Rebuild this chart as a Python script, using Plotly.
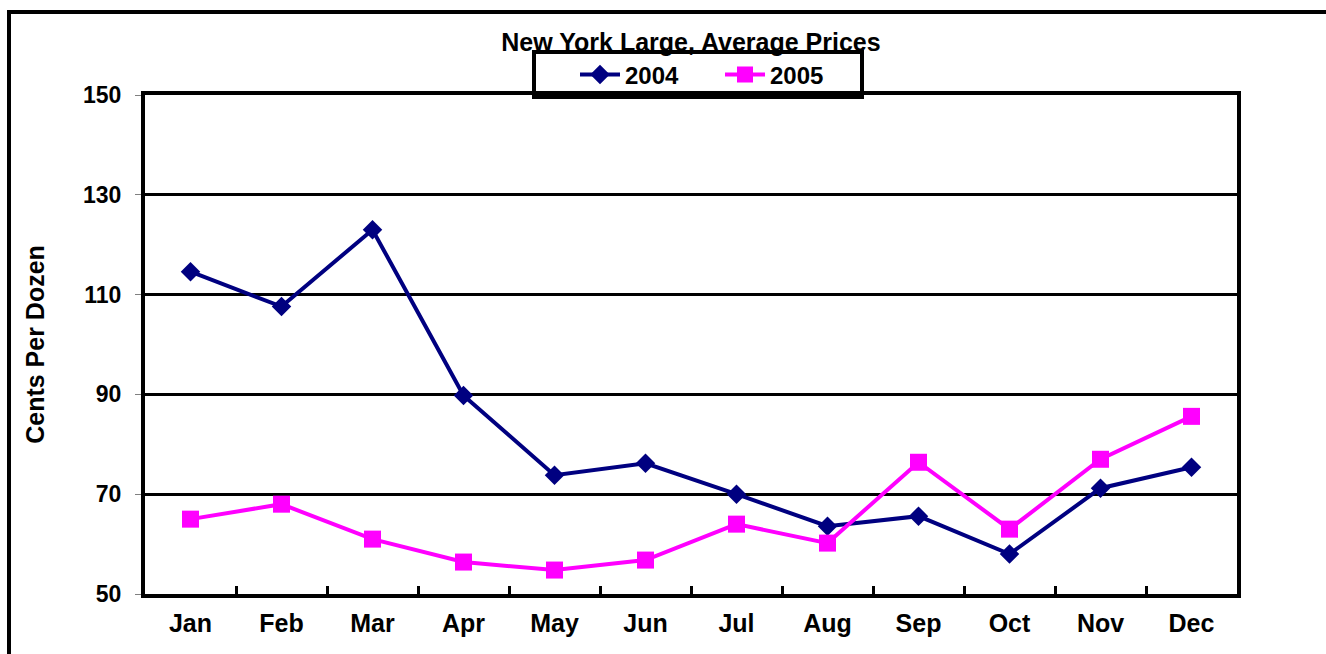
import plotly.graph_objects as go

months = ["Jan", "Feb", "Mar", "Apr", "May", "Jun", "Jul", "Aug", "Sep", "Oct", "Nov", "Dec"]
prices_2004 = [114.6, 107.6, 123.0, 89.8, 73.8, 76.2, 70.0, 63.6, 65.6, 58.0, 71.2, 75.4]
prices_2005 = [65.0, 68.0, 61.0, 56.4, 54.8, 56.8, 64.0, 60.2, 76.4, 63.0, 77.0, 85.6]
y_ticks = [50, 70, 90, 110, 130, 150]

FONT = "Liberation Sans, Arial, sans-serif"

fig = go.Figure()
fig.add_trace(go.Scatter(
    x=months, y=prices_2004, name="<b>2004</b>", mode="lines+markers",
    line=dict(color="#000080", width=4),
    marker=dict(symbol="diamond", size=15, color="#000080"),
))
fig.add_trace(go.Scatter(
    x=months, y=prices_2005, name="<b>2005</b>", mode="lines+markers",
    line=dict(color="#FF00FF", width=4),
    marker=dict(symbol="square", size=17, color="#FF00FF"),
))

L, R, T, B = 145, 89, 95, 60
W, H = 1326, 654
pw = W - L - R
ph = H - T - B

def px_x(p):
    return (p - L) / pw

def px_y(p):
    return (H - B - p) / ph

fig.update_layout(
    width=W, height=H,
    margin=dict(l=L, r=R, t=T, b=B),
    paper_bgcolor="white", plot_bgcolor="white",
    font=dict(family=FONT, color="black", size=22),
    title=dict(text="<b>New York Large, Average Prices</b>", x=0.5, xref="paper",
               xanchor="center", y=1 - 42 / H, yanchor="middle",
               font=dict(family=FONT, size=25, color="black")),
    showlegend=True,
    legend=dict(orientation="h", x=px_x(575), xanchor="left", y=px_y(75), yanchor="middle",
                bgcolor="rgba(0,0,0,0)", borderwidth=0, itemwidth=40,
                font=dict(family=FONT, size=24, color="black"),
                entrywidth=90, entrywidthmode="pixels", traceorder="normal"),
    xaxis=dict(
        type="category", range=[-0.5, 11.5],
        showline=True, linecolor="black", linewidth=4, mirror=True,
        ticks="inside", tickson="boundaries", ticklen=8, tickwidth=3, tickcolor="black",
        showgrid=False, tickfont=dict(family=FONT, size=25, color="black"),
        tickprefix="<b>", ticksuffix="</b>", ticklabelstandoff=4,
    ),
    yaxis=dict(
        range=[50, 150], tickvals=y_ticks, ticktext=[f"<b>{v}</b>" for v in y_ticks],
        showline=True, linecolor="black", linewidth=4, mirror=True,
        ticks="outside", ticklen=6, tickwidth=1, tickcolor="#808080",
        showgrid=True, gridcolor="black", gridwidth=3, zeroline=False,
        tickfont=dict(family=FONT, size=23, color="black"), ticklabelstandoff=9,
        title=dict(text="<b>Cents Per Dozen</b>", standoff=32,
                   font=dict(family=FONT, size=25, color="black")),
    ),
    shapes=[
        dict(type="rect", xref="paper", yref="paper",
             x0=px_x(9), x1=px_x(1400), y0=px_y(700), y1=px_y(12),
             line=dict(color="black", width=4), fillcolor="rgba(0,0,0,0)", layer="above"),
        dict(type="rect", xref="paper", yref="paper",
             x0=px_x(534), x1=px_x(862), y0=px_y(97), y1=px_y(52),
             line=dict(color="black", width=4), fillcolor="white", layer="below"),
    ],
)

fig.write_html("out.html", config={"displayModeBar": False},
               post_script="document.body.style.margin='0';")
